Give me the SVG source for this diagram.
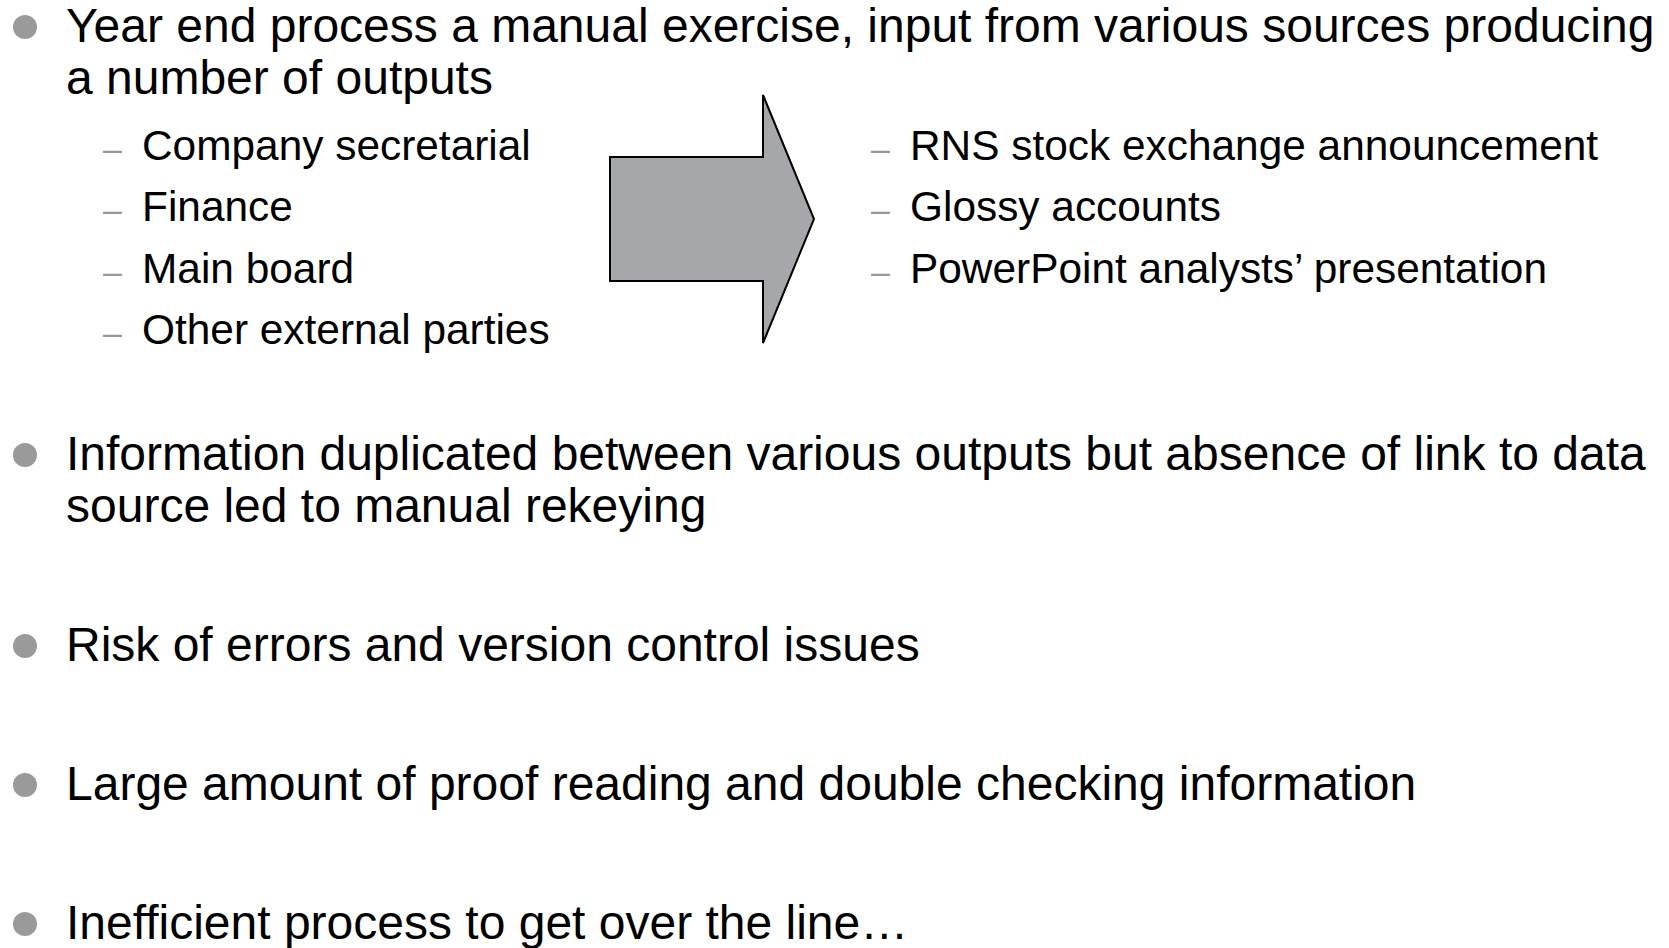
<svg xmlns="http://www.w3.org/2000/svg" width="1669" height="948" viewBox="0 0 1669 948">
<style>
.main{font-family:"Liberation Sans",Arial,Helvetica,sans-serif;font-size:48px;fill:#000}
.sub{font-family:"Liberation Sans",Arial,Helvetica,sans-serif;font-size:42.4px;fill:#000}
.dash{font-family:"Liberation Sans",Arial,Helvetica,sans-serif;font-size:34px;fill:#999}
.dot{fill:#9a9a9a}
</style>
<rect width="1669" height="948" fill="#fff"/>
<g id="bullet1">
<circle class="dot" cx="25" cy="27" r="12"/>
<text class="main" x="66" y="42">Year end process a manual exercise, input from various sources producing</text>
<text class="main" x="66" y="94">a number of outputs</text>
</g>
<g id="inputs">
<text class="dash" x="103" y="160">–</text><text class="sub" x="142" y="160">Company secretarial</text>
<text class="dash" x="103" y="221">–</text><text class="sub" x="142" y="221">Finance</text>
<text class="dash" x="103" y="283">–</text><text class="sub" x="142" y="283">Main board</text>
<text class="dash" x="103" y="344">–</text><text class="sub" x="142" y="344">Other external parties</text>
</g>
<g id="arrow">
<polygon points="610,157 763,157 763,95 814,219 763,343 763,281 610,281" fill="#a6a7aa" stroke="#000" stroke-width="2" stroke-linejoin="miter"/>
</g>
<g id="outputs">
<text class="dash" x="871" y="160">–</text><text class="sub" x="910" y="160">RNS stock exchange announcement</text>
<text class="dash" x="871" y="221">–</text><text class="sub" x="910" y="221">Glossy accounts</text>
<text class="dash" x="871" y="283">–</text><text class="sub" x="910" y="283">PowerPoint analysts’ presentation</text>
</g>
<g id="bullet2">
<circle class="dot" cx="25" cy="455" r="12"/>
<text class="main" x="66" y="470">Information duplicated between various outputs but absence of link to data</text>
<text class="main" x="66" y="522">source led to manual rekeying</text>
</g>
<g id="bullet3">
<circle class="dot" cx="25" cy="646" r="12"/>
<text class="main" x="66" y="661">Risk of errors and version control issues</text>
</g>
<g id="bullet4">
<circle class="dot" cx="25" cy="785" r="12"/>
<text class="main" x="66" y="800">Large amount of proof reading and double checking information</text>
</g>
<g id="bullet5">
<circle class="dot" cx="25" cy="924" r="12"/>
<text class="main" x="66" y="939">Inefficient process to get over the line…</text>
</g>
<g id="connectors"/>
</svg>
